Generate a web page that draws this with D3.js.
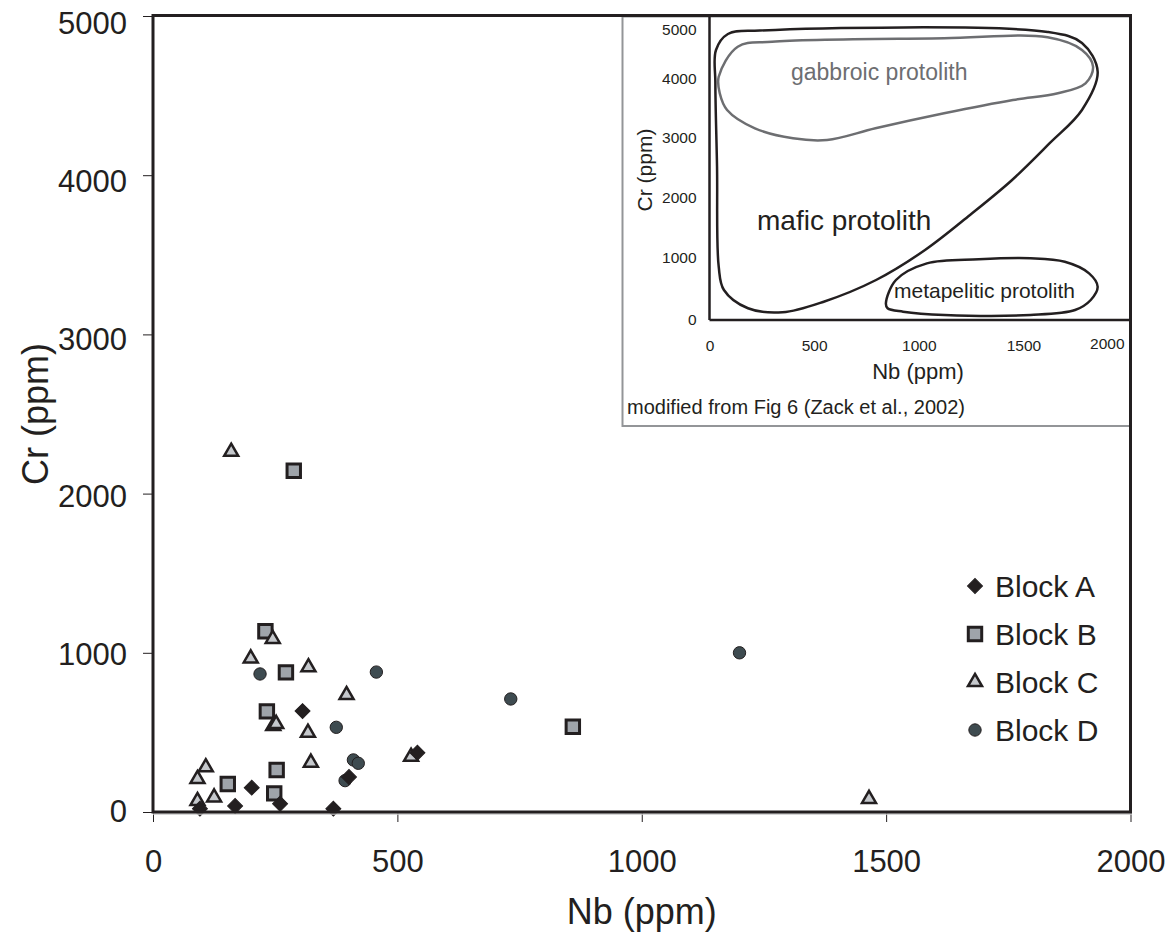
<!DOCTYPE html>
<html>
  <head>
    <style>
    body {
        margin: 0px;
        overflow: hidden;
        background: white;
    }
    text {
        font-family: "Liberation Sans", Arial, sans-serif;
        fill: #231f20;
    }
    </style>
    <script src="https://d3js.org/d3.v7.min.js"></script>
  </head>
  <body>
    <svg width="1176" height="938"></svg>
    <script>
        // data: [Nb, Cr] in ppm
        const blockA = [[96,21],[168,38],[202,153],[260,52],[306,634],[369,21],[401,220],[541,372]];
        const blockB = [[230,1135],[272,877],[233,632],[253,264],[153,176],[248,117],[288,2144],[859,536]];
        const blockC = [[245,1087],[200,965],[318,909],[396,735],[246,540],[252,553],[317,498],[323,310],
                        [108,281],[91,207],[125,92],[91,69],[528,347],[160,2263],[1465,82]];
        const blockD = [[219,867],[457,879],[375,532],[410,327],[420,306],[393,197],[732,710],[1200,1000]];

        const legendNames = ['Block A', 'Block B', 'Block C', 'Block D'];
        const xTicks = [0, 500, 1000, 1500, 2000];
        const yTicks = [0, 1000, 2000, 3000, 4000, 5000];

        // inset (Zack et al., 2002) field outlines, [Nb, Cr]
        const gabbroicField = [[44,4047],[135,4659],[299,4761],[1121,4831],[1616,4851],[1780,4592],[1833,4251],
                               [1797,3927],[1665,3758],[1450,3644],[1121,3418],[793,3164],[562,2967],[399,2995],
                               [217,3164],[84,3475],[49,3758]];
        const maficField = [[31,4592],[88,4918],[241,4990],[1616,4959],[1780,4735],[1855,4149],[1780,3475],
                            [1627,2917],[1446,2300],[1245,1717],[1030,1133],[796,645],[546,295],[349,124],
                            [184,189],[69,484],[44,860],[36,2522],[28,3932]];
        const metapeliticField = [[843,269],[891,645],[1039,914],[1287,979],[1534,995],[1698,940],[1814,753],
                                  [1855,537],[1822,323],[1747,161],[1534,81],[1123,81],[925,134],[851,189]];
        const insetXTicks = [0, 500, 1000, 1500, 2000];
        const insetYTicks = [0, 1000, 2000, 3000, 4000, 5000];

        const svg = d3.select('svg');
        const ink = '#231f20';
        const fmt = d3.format('d');

        // main scales
        const x = d3.scaleLinear().domain([0, 2000]).range([153, 1130.5]);
        const y = d3.scaleLinear().domain([0, 5000]).range([812, 16]);
        // y tick labels in the original sit a bit lower than their ticks toward the top
        const yLabel = d3.scaleLinear().domain([0, 5000]).range([812, 24]);

        // axes
        const yAxisG = svg.append('g')
            .attr('transform', `translate(${x(0)},0)`)
            .call(d3.axisLeft(y).tickValues(yTicks).tickSize(10).tickPadding(16).tickFormat(fmt));
        const xAxisG = svg.append('g')
            .attr('transform', `translate(0,${y(0)})`)
            .call(d3.axisBottom(x).tickValues(xTicks).tickSize(10).tickPadding(28).tickFormat(fmt));
        [yAxisG, xAxisG].forEach(a => {
            a.select('.domain').remove();
            a.selectAll('.tick line').attr('stroke', ink);
            a.selectAll('.tick text').attr('font-size', '31px').attr('fill', ink)
                .style('font-family', '"Liberation Sans", Arial, sans-serif');
        });
        yAxisG.selectAll('.tick text')
            .attr('transform', d => `translate(0,${yLabel(d) - y(d)})`);

        // axis titles
        svg.append('text')
            .attr('x', (x(0) + x(2000)) / 2)
            .attr('y', 924)
            .attr('text-anchor', 'middle')
            .attr('font-size', '36px')
            .text('Nb (ppm)');
        svg.append('text')
            .attr('transform', `translate(48,${(y(0) + y(5000)) / 2}) rotate(-90)`)
            .attr('text-anchor', 'middle')
            .attr('font-size', '36px')
            .text('Cr (ppm)');

        // markers
        const diamond = d3.symbol().type(d3.symbolSquare).size(112);
        const square = d3.symbol().type(d3.symbolSquare).size(180);
        const triangle = d3.symbol().type(d3.symbolTriangle).size(85);
        const circle = d3.symbol().type(d3.symbolCircle).size(120);

        const series = [
            {data: blockD, sym: circle, fill: '#3e4b50', stroke: ink, sw: 1, rot: 0},
            {data: blockB, sym: square, fill: '#9fa4aa', stroke: ink, sw: 3, rot: 0},
            {data: blockC, sym: triangle, fill: '#c5c8cc', stroke: ink, sw: 2.5, rot: 0},
            {data: blockA, sym: diamond, fill: ink, stroke: ink, sw: 1, rot: 45}
        ];

        series.forEach(s => {
            svg.append('g').selectAll('path').data(s.data)
                .enter().append('path')
                    .attr('d', s.sym())
                    .attr('transform', d => `translate(${x(d[0])},${y(d[1])}) rotate(${s.rot})`)
                    .attr('fill', s.fill)
                    .attr('stroke', s.stroke)
                    .attr('stroke-width', s.sw)
                    .attr('stroke-linejoin', 'miter');
        });

        // legend
        const legendStyle = [series[3], series[1], series[2], series[0]];
        const legend = svg.append('g');
        legendNames.forEach((name, i) => {
            const s = legendStyle[i];
            const ly = 586 + i * 48;
            legend.append('path')
                .attr('d', s.sym())
                .attr('transform', `translate(975,${ly}) rotate(${s.rot})`)
                .attr('fill', s.fill)
                .attr('stroke', s.stroke)
                .attr('stroke-width', s.sw);
            legend.append('text')
                .attr('x', 995)
                .attr('y', ly + 11)
                .attr('font-size', '30px')
                .text(name);
        });

        // inset
        const xi = d3.scaleLinear().domain([0, 2000]).range([709.5, 1128]);
        const yi = d3.scaleLinear().domain(insetYTicks).range([320, 258, 198, 138, 79, 30]);

        svg.append('rect')
            .attr('x', 622.5).attr('y', 16.5)
            .attr('width', 1130 - 622.5).attr('height', 426 - 16.5)
            .attr('fill', 'white')
            .attr('stroke', '#939598')
            .attr('stroke-width', 2);

        const inset = svg.append('g');
        const yiAxis = inset.append('g')
            .attr('transform', `translate(${xi(0)},0)`)
            .call(d3.axisLeft(yi).tickValues(insetYTicks).tickSize(0).tickPadding(13).tickFormat(fmt));
        const xiAxis = inset.append('g')
            .attr('transform', `translate(0,${yi(0)})`)
            .call(d3.axisBottom(xi).tickValues(insetXTicks).tickSize(0).tickPadding(20).tickFormat(fmt));
        [yiAxis, xiAxis].forEach(a => {
            a.select('.domain').remove();
            a.selectAll('.tick text').attr('font-size', '15.5px').attr('fill', ink)
                .style('font-family', '"Liberation Sans", Arial, sans-serif');
        });
        xiAxis.selectAll('.tick text').filter(d => d === 2000)
            .attr('text-anchor', 'end').attr('dx', -4).attr('dy', '0.55em');

        inset.append('text')
            .attr('x', 918).attr('y', 379)
            .attr('text-anchor', 'middle')
            .attr('font-size', '22px')
            .text('Nb (ppm)');
        inset.append('text')
            .attr('transform', 'translate(652,170) rotate(-90)')
            .attr('text-anchor', 'middle')
            .attr('font-size', '21px')
            .text('Cr (ppm)');
        inset.append('text')
            .attr('x', 627).attr('y', 414)
            .attr('font-size', '20px')
            .text('modified from Fig 6 (Zack et al., 2002)');

        const fieldLine = d3.line()
            .x(d => xi(d[0]))
            .y(d => yi(d[1]))
            .curve(d3.curveCatmullRomClosed.alpha(0.5));

        inset.append('path').attr('d', fieldLine(gabbroicField))
            .attr('fill', 'none').attr('stroke', '#6d6e71').attr('stroke-width', 2.5);
        inset.append('path').attr('d', fieldLine(maficField))
            .attr('fill', 'none').attr('stroke', ink).attr('stroke-width', 2.5);
        inset.append('path').attr('d', fieldLine(metapeliticField))
            .attr('fill', 'none').attr('stroke', ink).attr('stroke-width', 2.5);

        inset.append('text')
            .attr('x', 791).attr('y', 80)
            .attr('font-size', '23px')
            .style('fill', '#6d6e71')
            .text('gabbroic protolith');
        inset.append('text')
            .attr('x', 757).attr('y', 230)
            .attr('font-size', '28px')
            .text('mafic protolith');
        inset.append('text')
            .attr('x', 894).attr('y', 298)
            .attr('font-size', '21px')
            .text('metapelitic protolith');

        // inset frame (left and bottom)
        inset.append('line')
            .attr('x1', xi(0)).attr('x2', xi(0)).attr('y1', 15).attr('y2', yi(0))
            .attr('stroke', ink).attr('stroke-width', 2.5);
        inset.append('line')
            .attr('x1', xi(0)).attr('x2', 1130).attr('y1', yi(0)).attr('y2', yi(0))
            .attr('stroke', ink).attr('stroke-width', 2.5);

        // main plot frame
        svg.append('line')
            .attr('x1', x(0)).attr('x2', x(2000) + 1.5).attr('y1', y(0) + 2).attr('y2', y(0) + 2)
            .attr('stroke', '#c8c8c8').attr('stroke-width', 1.5);
        svg.append('rect')
            .attr('x', x(0)).attr('y', y(5000) - 0.5)
            .attr('width', x(2000) - x(0)).attr('height', y(0) - y(5000) + 0.5)
            .attr('fill', 'none')
            .attr('stroke', ink)
            .attr('stroke-width', 3);
    </script>
  </body>
</html>
